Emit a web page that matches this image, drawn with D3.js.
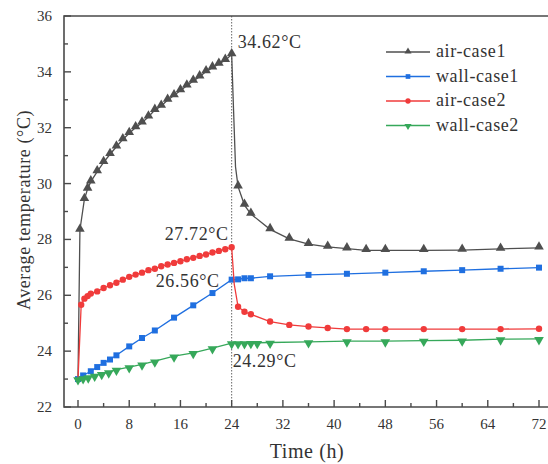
<!DOCTYPE html>
<html>
<head>
  <meta charset="utf-8">
  <title></title>
  <style>
    body { margin: 0; background: #fff; }
    text { font-family: "Liberation Serif", "Times New Roman", serif; fill: #333; }
    .frame { stroke: #4a4a4a; stroke-width: 1.6px; fill: none; }
    .lbl { letter-spacing: 0.6px; }
  </style>
</head>
<body>
<svg width="548" height="464"></svg>
<script src="https://cdn.jsdelivr.net/npm/d3@7/dist/d3.min.js"></script>
<script>

// time (h) and temperature values
var air1T = [0, 0.3, 1, 1.5, 2, 3, 4, 5, 6, 7, 8, 9, 10, 11, 12, 13, 14, 15, 16, 17, 18, 19, 20, 21, 22, 23, 24,
  24.3, 24.6, 25, 26, 27, 30, 33, 36, 39, 42, 45, 48, 54, 60, 66, 72];
var air1V = [23.0, 28.34, 29.44, 29.81, 30.07, 30.43, 30.76, 31.05, 31.32, 31.58, 31.80, 32.01, 32.18, 32.39, 32.63,
  32.78, 32.99, 33.15, 33.33, 33.50, 33.67, 33.83, 34.01, 34.15, 34.28, 34.42, 34.62,
  32.6, 30.6, 29.89, 29.23, 28.91, 28.36, 28.02, 27.83, 27.73, 27.67, 27.61, 27.61, 27.61, 27.62, 27.66, 27.70];
var air1Mk = [0, 1, 1, 1, 1, 1, 1, 1, 1, 1, 1, 1, 1, 1, 1, 1, 1, 1, 1, 1, 1, 1, 1, 1, 1, 1, 1,
  0, 0, 1, 1, 1, 1, 1, 1, 1, 1, 1, 1, 1, 1, 1, 1];

var wall1T = [0, 0.8, 2, 3, 4, 5, 6, 8, 10, 12, 15, 18, 21, 24, 25, 26, 27, 30, 36, 42, 48, 54, 60, 66, 72];
var wall1V = [23.0, 23.13, 23.28, 23.43, 23.58, 23.70, 23.85, 24.17, 24.47, 24.74, 25.20, 25.64, 26.08, 26.56,
  26.57, 26.61, 26.61, 26.68, 26.73, 26.77, 26.81, 26.86, 26.90, 26.95, 26.99];

var air2T = [0, 0.5, 1, 1.5, 2, 3, 4, 5, 6, 7, 8, 9, 10, 11, 12, 13, 14, 15, 16, 17, 18, 19, 20, 21, 22, 23, 24,
  24.4, 25, 26, 27, 30, 33, 36, 39, 42, 45, 48, 54, 60, 66, 72];
var air2V = [23.0, 25.66, 25.88, 25.97, 26.06, 26.14, 26.26, 26.36, 26.45, 26.56, 26.66, 26.74, 26.81, 26.90, 26.95,
  27.04, 27.10, 27.16, 27.22, 27.29, 27.34, 27.41, 27.46, 27.53, 27.59, 27.65, 27.72,
  26.4, 25.59, 25.41, 25.32, 25.06, 24.94, 24.88, 24.83, 24.79, 24.79, 24.79, 24.79, 24.79, 24.79, 24.80];
var air2Mk = [0, 1, 1, 1, 1, 1, 1, 1, 1, 1, 1, 1, 1, 1, 1, 1, 1, 1, 1, 1, 1, 1, 1, 1, 1, 1, 1,
  0, 1, 1, 1, 1, 1, 1, 1, 1, 1, 1, 1, 1, 1, 1];

var wall2T = [0, 0.8, 1.6, 2.6, 3.7, 4.8, 6, 8, 10, 12, 15, 18, 21, 24, 25, 26, 27, 28, 30, 36, 42, 48, 54, 60, 66, 72];
var wall2V = [23.0, 23.04, 23.07, 23.13, 23.19, 23.25, 23.34, 23.43, 23.53, 23.64, 23.82, 23.94, 24.11, 24.29,
  24.29, 24.29, 24.30, 24.30, 24.31, 24.33, 24.36, 24.36, 24.38, 24.39, 24.43, 24.44];

var xTicks = [0, 8, 16, 24, 32, 40, 48, 56, 64, 72];
var yTicks = [22, 24, 26, 28, 30, 32, 34, 36];
var labels = ["34.62°C", "27.72°C", "26.56°C", "24.29°C"];

var svg = d3.select("svg");

var x = d3.scaleLinear().domain([0, 72]).range([78, 539]);
var y = d3.scaleLinear().domain([22, 36]).range([407, 16]);

function pack(t, v, mk) {
  return t.map(function(d, i) { return {t: d, v: v[i], m: mk ? mk[i] : 1}; });
}

var triUp = d3.symbol().type(d3.symbolTriangle).size(40);
var square = d3.symbol().type(d3.symbolSquare).size(36);
var circ = d3.symbol().type(d3.symbolCircle).size(32);

var series = [
  {name: "air-case1", color: "#4f4f4f", data: pack(air1T, air1V, air1Mk), sym: triUp, rot: 0, dy: -1},
  {name: "wall-case1", color: "#1f6fe0", data: pack(wall1T, wall1V), sym: square, rot: 0, dy: 0},
  {name: "air-case2", color: "#f03b3b", data: pack(air2T, air2V, air2Mk), sym: circ, rot: 0, dy: 0},
  {name: "wall-case2", color: "#36a85a", data: pack(wall2T, wall2V), sym: triUp, rot: 180, dy: 1}
];

// dotted line at 24 h
svg.append("line")
  .attr("x1", x(24)).attr("x2", x(24))
  .attr("y1", y(36)).attr("y2", y(22))
  .attr("stroke", "#666").attr("stroke-width", 1)
  .attr("stroke-dasharray", "1.5,1.5");

// frame
svg.append("path").attr("class", "frame")
  .attr("d", "M560,16 H64 V407 H560");

// y axis ticks (inward)
var yMinor = d3.range(23, 36, 2);
svg.append("g").selectAll("line").data(yTicks).enter().append("line")
  .attr("x1", 64).attr("x2", 71)
  .attr("y1", function(d) { return y(d); }).attr("y2", function(d) { return y(d); })
  .attr("stroke", "#4a4a4a").attr("stroke-width", 1.4);
svg.append("g").selectAll("line").data(yMinor).enter().append("line")
  .attr("x1", 64).attr("x2", 68)
  .attr("y1", function(d) { return y(d); }).attr("y2", function(d) { return y(d); })
  .attr("stroke", "#4a4a4a").attr("stroke-width", 1.4);
svg.append("g").selectAll("text").data(yTicks).enter().append("text")
  .attr("x", 52).attr("y", function(d) { return y(d) + 5; })
  .attr("text-anchor", "end").attr("font-size", 15)
  .text(function(d) { return d; });

// x axis ticks (inward)
var xMinor = d3.range(4, 73, 8);
svg.append("g").selectAll("line").data(xTicks).enter().append("line")
  .attr("y1", 407).attr("y2", 400)
  .attr("x1", function(d) { return x(d); }).attr("x2", function(d) { return x(d); })
  .attr("stroke", "#4a4a4a").attr("stroke-width", 1.4);
svg.append("g").selectAll("line").data(xMinor).enter().append("line")
  .attr("y1", 407).attr("y2", 403)
  .attr("x1", function(d) { return x(d); }).attr("x2", function(d) { return x(d); })
  .attr("stroke", "#4a4a4a").attr("stroke-width", 1.4);
svg.append("g").selectAll("text").data(xTicks).enter().append("text")
  .attr("x", function(d) { return x(d); }).attr("y", 429)
  .attr("text-anchor", "middle").attr("font-size", 15)
  .text(function(d) { return d; });

// axis titles
svg.append("text")
  .attr("transform", "translate(30,210) rotate(-90)")
  .attr("text-anchor", "middle").attr("font-size", 18).attr("class", "lbl")
  .text("Average temperature (°C)");
svg.append("text")
  .attr("x", 307).attr("y", 458)
  .attr("text-anchor", "middle").attr("font-size", 20).attr("class", "lbl")
  .text("Time (h)");

var line = d3.line()
  .x(function(d) { return x(d.t); })
  .y(function(d) { return y(d.v); });

series.forEach(function(s) {
  svg.append("path")
    .datum(s.data)
    .attr("fill", "none")
    .attr("stroke", s.color)
    .attr("stroke-width", 1.3)
    .attr("d", line);

  svg.append("g").selectAll("path")
    .data(s.data.filter(function(d) { return d.m; }))
    .enter().append("path")
    .attr("d", s.sym)
    .attr("fill", s.color)
    .attr("transform", function(d) {
      return "translate(" + x(d.t) + "," + (y(d.v) + s.dy) + ") rotate(" + s.rot + ")";
    });
});

// value labels
var lab = svg.append("g").attr("font-size", 18).attr("class", "lbl");
lab.append("text").attr("x", x(24) + 6).attr("y", y(34.62) - 7).text(labels[0]);
lab.append("text").attr("x", x(24) - 3).attr("y", y(27.72) - 7).attr("text-anchor", "end").text(labels[1]);
lab.append("text").attr("x", x(24) - 12).attr("y", y(26.56) + 7).attr("text-anchor", "end").text(labels[2]);
lab.append("text").attr("x", x(24) + 1).attr("y", y(24.29) + 24).text(labels[3]);

// legend
var leg = svg.append("g");
series.forEach(function(s, i) {
  var ly = 52 + i * 24.5;
  leg.append("line")
    .attr("x1", 386).attr("x2", 430).attr("y1", ly).attr("y2", ly)
    .attr("stroke", s.color).attr("stroke-width", 1.3);
  leg.append("path")
    .attr("d", s.sym.size(22)())
    .attr("fill", s.color)
    .attr("transform", "translate(408," + (ly + s.dy * 0.5) + ") rotate(" + s.rot + ")");
  leg.append("text")
    .attr("x", 436).attr("y", ly + 5)
    .attr("font-size", 18).attr("class", "lbl")
    .text(s.name);
});

</script>
</body>
</html>
